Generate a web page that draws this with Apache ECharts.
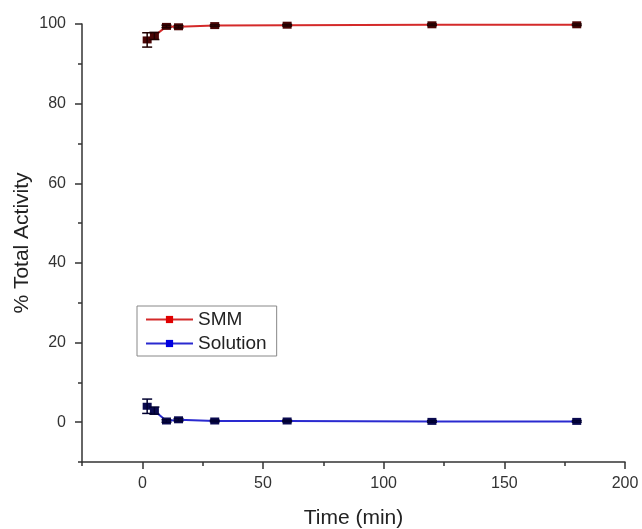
<!DOCTYPE html>
<html><head><meta charset="utf-8">
<script src="https://cdn.jsdelivr.net/npm/echarts@6/dist/echarts.min.js"></script>
<style>html,body{margin:0;padding:0;background:#fff}#c{width:642px;height:529px}</style>
</head><body><div id="c"></div>
<script>
const times = [2, 5, 10, 15, 30, 60, 120, 180];
const smm = [96.0, 97.0, 99.4, 99.3, 99.6, 99.7, 99.8, 99.8];
const smmErr = [1.8, 0.9, 0.3, 0.3, 0.2, 0.2, 0.2, 0.2];
const solution = [4.0, 2.9, 0.3, 0.6, 0.3, 0.3, 0.2, 0.2];
const solutionErr = [1.8, 0.9, 0.3, 0.3, 0.2, 0.2, 0.2, 0.2];
const xMajor = [0, 50, 100, 150, 200];
const xMinor = [-25, 25, 75, 125, 175];
const yMajor = [0, 20, 40, 60, 80, 100];
const yMinor = [-10, 10, 30, 50, 70, 90];

const font = 'Liberation Sans, Arial, sans-serif';
const axisCol = '#333';

function errSeries(vals, errs, color, name) {
  return {
    type: 'custom', name: name + ' err', silent: true, z: 4,
    data: times.map((t, i) => [t, vals[i] - errs[i], vals[i] + errs[i]]),
    renderItem: function (params, api) {
      const lo = api.coord([api.value(0), api.value(1)]);
      const hi = api.coord([api.value(0), api.value(2)]);
      const w = 5;
      const st = { stroke: color, lineWidth: 1.5 };
      return { type: 'group', children: [
        { type: 'line', shape: { x1: lo[0], y1: lo[1], x2: hi[0], y2: hi[1] }, style: st },
        { type: 'line', shape: { x1: lo[0] - w, y1: lo[1], x2: lo[0] + w, y2: lo[1] }, style: st },
        { type: 'line', shape: { x1: hi[0] - w, y1: hi[1], x2: hi[0] + w, y2: hi[1] }, style: st }
      ]};
    }
  };
}

const chart = echarts.init(document.getElementById('c'));
chart.setOption({
  animation: false,
  backgroundColor: '#fff',
  grid: { left: 82, right: 17, top: 24, bottom: 67, outerBoundsMode: 'none', containLabel: false },
  legend: {
    orient: 'vertical', left: 137, top: 306, padding: [4, 10, 3, 8],
    borderColor: '#888', borderWidth: 1, itemGap: 5,
    itemWidth: 47, itemHeight: 9,
    textStyle: { fontFamily: font, fontSize: 19, color: '#222' },
    data: [
      { name: 'SMM', itemStyle: { color: '#e00000' } },
      { name: 'Solution', itemStyle: { color: '#0000e0' } }
    ]
  },
  xAxis: [{
    type: 'value', min: -25, max: 200,
    name: 'Time (min)', nameLocation: 'middle', nameGap: 46,
    nameTextStyle: { fontFamily: font, fontSize: 21, color: '#222' },
    axisLine: { onZero: false, lineStyle: { color: axisCol, width: 1.5 } },
    axisTick: { show: true, length: 7, customValues: xMajor, lineStyle: { color: axisCol, width: 1.5 } },
    axisLabel: { customValues: xMajor, fontFamily: font, fontSize: 16, color: '#333', margin: 14 },
    splitLine: { show: false }
  }, {
    type: 'value', min: -25, max: 200, position: 'bottom',
    axisLine: { show: false, onZero: false },
    axisTick: { show: true, length: 4, customValues: xMinor, lineStyle: { color: axisCol, width: 1.5 } },
    axisLabel: { show: false }, splitLine: { show: false }
  }],
  yAxis: [{
    type: 'value', min: -10, max: 100,
    name: '% Total Activity', nameLocation: 'middle', nameGap: 49, nameRotate: 90,
    nameMoveOverlap: false,
    nameTextStyle: { fontFamily: font, fontSize: 21, color: '#222' },
    axisLine: { show: true, onZero: false, lineStyle: { color: axisCol, width: 1.5 } },
    axisTick: { show: true, length: 7, customValues: yMajor, lineStyle: { color: axisCol, width: 1.5 } },
    axisLabel: { customValues: yMajor, fontFamily: font, fontSize: 16, color: '#333', margin: 16 },
    splitLine: { show: false }
  }, {
    type: 'value', min: -10, max: 100, position: 'left',
    axisLine: { show: false, onZero: false },
    axisTick: { show: true, length: 4, customValues: yMinor, lineStyle: { color: axisCol, width: 1.5 } },
    axisLabel: { show: false }, splitLine: { show: false }
  }],
  series: [
    {
      type: 'line', name: 'SMM', z: 3,
      data: times.map((t, i) => [t, smm[i]]),
      symbol: 'rect', symbolSize: [9, 7],
      lineStyle: { color: '#d42a2a', width: 2 },
      itemStyle: { color: '#4a0505' }
    },
    {
      type: 'line', name: 'Solution', z: 3,
      data: times.map((t, i) => [t, solution[i]]),
      symbol: 'rect', symbolSize: [9, 7],
      lineStyle: { color: '#2a2ad0', width: 2 },
      itemStyle: { color: '#0a0a50' }
    },
    errSeries(smm, smmErr, '#200000', 'SMM'),
    errSeries(solution, solutionErr, '#000030', 'Solution')
  ]
});
</script></body></html>
